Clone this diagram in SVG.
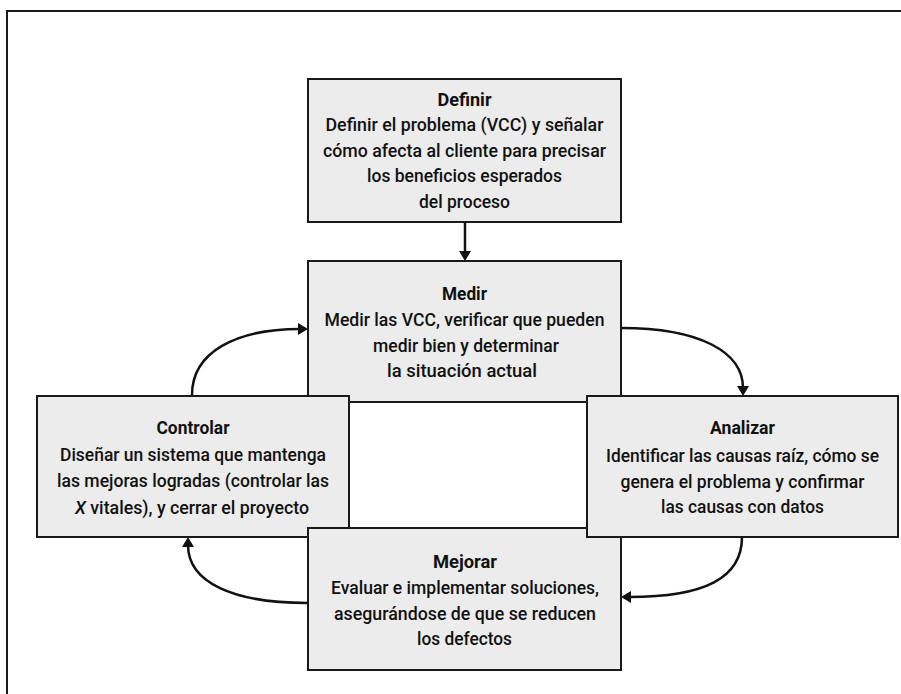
<svg xmlns="http://www.w3.org/2000/svg" width="901" height="694" viewBox="0 0 901 694">
  <style>
    .box { fill: #ececec; stroke: #1a1a1a; stroke-width: 2; }
    .title { font-family: Roboto, "Liberation Sans", sans-serif; font-weight: 700; font-size: 19px; fill: #111; text-anchor: middle; }
    .body { font-family: Roboto, "Liberation Sans", sans-serif; font-weight: 500; font-size: 19px; fill: #111; text-anchor: middle; }
    .conn { fill: none; stroke: #111; stroke-width: 2.5; }
    .frame { fill: none; stroke: #1a1a1a; stroke-width: 2; }
  </style>
  <defs>
    <marker id="head" viewBox="0 0 10 12" refX="2" refY="6" markerWidth="10" markerHeight="12" markerUnits="userSpaceOnUse" orient="auto">
      <path d="M0,0 L10,6 L0,12 z" fill="#111"/>
    </marker>
  </defs>

  <rect width="901" height="694" fill="#fff"/>
  <!-- outer frame: top and left rules -->
  <path class="frame" d="M7,694 V11 H901"/>

  <g id="definir">
    <rect class="box" x="308" y="79" width="313" height="143"/>
    <text class="title" x="464.5" y="105.5" textLength="54" lengthAdjust="spacingAndGlyphs">Definir</text>
    <text class="body" x="464.5" y="131" textLength="278" lengthAdjust="spacingAndGlyphs">Definir el problema (VCC) y señalar</text>
    <text class="body" x="464.5" y="156.5" textLength="283" lengthAdjust="spacingAndGlyphs">cómo afecta al cliente para precisar</text>
    <text class="body" x="464.5" y="182" textLength="195" lengthAdjust="spacingAndGlyphs">los beneficios esperados</text>
    <text class="body" x="464.5" y="207.5" textLength="91" lengthAdjust="spacingAndGlyphs">del proceso</text>
  </g>

  <g id="medir">
    <rect class="box" x="308" y="261" width="313" height="141"/>
    <text class="title" x="464.5" y="300" textLength="45" lengthAdjust="spacingAndGlyphs">Medir</text>
    <text class="body" x="464.5" y="326" textLength="280" lengthAdjust="spacingAndGlyphs">Medir las VCC, verificar que pueden</text>
    <text class="body" x="466" y="351.5" textLength="186" lengthAdjust="spacingAndGlyphs">medir bien y determinar</text>
    <text class="body" x="462" y="376.5" textLength="150" lengthAdjust="spacingAndGlyphs">la situación actual</text>
  </g>

  <g id="controlar">
    <rect class="box" x="37" y="396" width="312" height="141"/>
    <text class="title" x="193" y="433.5" textLength="73" lengthAdjust="spacingAndGlyphs">Controlar</text>
    <text class="body" x="193" y="461" textLength="266" lengthAdjust="spacingAndGlyphs">Diseñar un sistema que mantenga</text>
    <text class="body" x="193" y="487" textLength="272" lengthAdjust="spacingAndGlyphs">las mejoras logradas (controlar las</text>
    <text class="body" x="192" y="513.5" textLength="234" lengthAdjust="spacingAndGlyphs"><tspan font-style="italic">X</tspan> vitales), y cerrar el proyecto</text>
  </g>

  <g id="mejorar">
    <rect class="box" x="308" y="528" width="313" height="142"/>
    <text class="title" x="465" y="567.5" textLength="64" lengthAdjust="spacingAndGlyphs">Mejorar</text>
    <text class="body" x="465" y="594" textLength="268" lengthAdjust="spacingAndGlyphs">Evaluar e implementar soluciones,</text>
    <text class="body" x="465" y="619.5" textLength="262" lengthAdjust="spacingAndGlyphs">asegurándose de que se reducen</text>
    <text class="body" x="464.5" y="645" textLength="95" lengthAdjust="spacingAndGlyphs">los defectos</text>
  </g>

  <g id="analizar">
    <rect class="box" x="587" y="396" width="311" height="141"/>
    <text class="title" x="742.5" y="434" textLength="65" lengthAdjust="spacingAndGlyphs">Analizar</text>
    <text class="body" x="742.5" y="461.5" textLength="273" lengthAdjust="spacingAndGlyphs">Identificar las causas raíz, cómo se</text>
    <text class="body" x="742.5" y="488" textLength="244" lengthAdjust="spacingAndGlyphs">genera el problema y confirmar</text>
    <text class="body" x="742.5" y="513" textLength="163" lengthAdjust="spacingAndGlyphs">las causas con datos</text>
  </g>

  <g id="connectors">
    <!-- Definir to Medir -->
    <path class="conn" d="M465,222 V253" marker-end="url(#head)"/>
    <!-- Controlar to Medir -->
    <path class="conn" d="M192,395 C192,352 236,329 300,329" marker-end="url(#head)"/>
    <!-- Medir to Analizar -->
    <path class="conn" d="M621,328 C700,328 743,352 743,388" marker-end="url(#head)"/>
    <!-- Analizar to Mejorar -->
    <path class="conn" d="M742,537 C742,578 705,597 629,597" marker-end="url(#head)"/>
    <!-- Mejorar to Controlar -->
    <path class="conn" d="M308,603 C232,603 188,582 188,545" marker-end="url(#head)"/>
  </g>
</svg>
